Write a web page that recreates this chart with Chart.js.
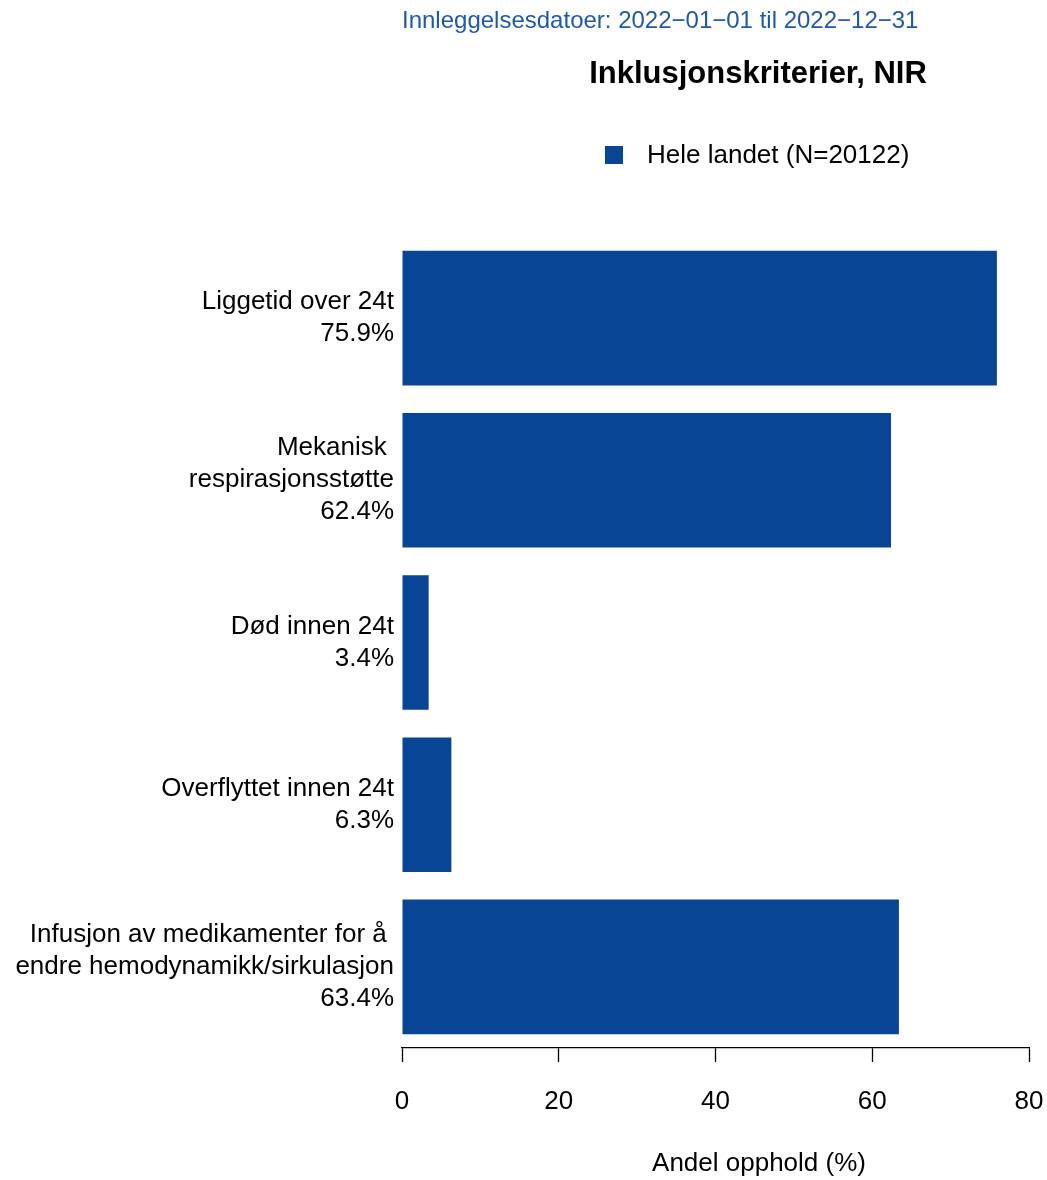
<!DOCTYPE html>
<html lang="no">
<head>
    <meta charset="UTF-8">
    <title>Inklusjonskriterier, NIR</title>
    <script src="https://cdn.jsdelivr.net/npm/chart.js"></script>
    <style>
        * { margin: 0; padding: 0; box-sizing: border-box; }
        body { background: white; }
        .wrap { width: 1047px; height: 1180px; position: relative; }
    </style>
</head>
<body>
    <div class="wrap">
        <canvas id="chart" width="1047" height="1180"></canvas>
    </div>

    <script>
        // data
        const categories = [
            ['Liggetid over 24t'],
            ['Mekanisk ', 'respirasjonsstøtte'],
            ['Død innen 24t'],
            ['Overflyttet innen 24t'],
            ['Infusjon av medikamenter for å ', 'endre hemodynamikk/sirkulasjon']
        ];
        const values = [75.9, 62.4, 3.4, 6.3, 63.4];
        const xTicks = [0, 20, 40, 60, 80];

        const seriesLabel = 'Hele landet (N=20122)';
        const subtitleText = 'Innleggelsesdatoer: 2022\u221201\u221201 til 2022\u221212\u221231';
        const titleText = 'Inklusjonskriterier, NIR';
        const xTitle = 'Andel opphold (%)';

        const FONT = '"Liberation Sans", Arial, Helvetica, sans-serif';
        const BLUE = '#084594';

        // each y label = category lines + percentage
        const labels = categories.map((lines, i) => [...lines, values[i].toFixed(1) + '%']);

        // header texts, legend and x-axis title
        const headerPlugin = {
            id: 'header',
            afterDraw(chart) {
                const ctx = chart.ctx;
                ctx.save();
                ctx.textBaseline = 'middle';

                ctx.fillStyle = '#1f5aa6';
                ctx.font = '24px ' + FONT;
                ctx.textAlign = 'left';
                ctx.fillText(subtitleText, 402, 21);

                ctx.fillStyle = '#000';
                ctx.font = 'bold 31px ' + FONT;
                ctx.textAlign = 'center';
                ctx.fillText(titleText, 758, 74);

                const ds = chart.data.datasets[0];
                ctx.fillStyle = ds.backgroundColor;
                ctx.fillRect(605, 146, 18, 18);
                ctx.fillStyle = '#000';
                ctx.font = '26px ' + FONT;
                ctx.textAlign = 'left';
                ctx.fillText(ds.label, 647, 156);

                ctx.textAlign = 'center';
                ctx.fillText(xTitle, 759, 1164);
                ctx.restore();
            }
        };

        new Chart(document.getElementById('chart'), {
            type: 'bar',
            data: {
                labels: labels,
                datasets: [{
                    label: seriesLabel,
                    data: values,
                    backgroundColor: BLUE,
                    borderWidth: 0,
                    barPercentage: 0.83,
                    categoryPercentage: 1.0
                }]
            },
            options: {
                indexAxis: 'y',
                responsive: false,
                animation: false,
                layout: {
                    padding: { top: 237, right: 18, bottom: 0, left: 0 }
                },
                plugins: {
                    legend: { display: false },
                    tooltip: { enabled: false }
                },
                scales: {
                    x: {
                        min: xTicks[0],
                        max: xTicks[xTicks.length - 1],
                        afterBuildTicks(scale) {
                            scale.ticks = xTicks.map(v => ({ value: v }));
                        },
                        afterFit(scale) {
                            scale.height = 132;
                            scale.paddingLeft = 0;
                            scale.paddingRight = 0;
                        },
                        grid: {
                            drawOnChartArea: false,
                            drawTicks: true,
                            tickLength: 14,
                            tickColor: '#000',
                            tickWidth: 1.3
                        },
                        border: { display: true, color: '#000', width: 1.3 },
                        ticks: {
                            color: '#000',
                            padding: 24,
                            maxRotation: 0,
                            font: { family: FONT, size: 26 }
                        }
                    },
                    y: {
                        afterFit(scale) {
                            scale.width = 402;
                        },
                        grid: { display: false },
                        border: { display: false },
                        ticks: {
                            color: '#000',
                            padding: 0,
                            font: { family: FONT, size: 26, lineHeight: 32 / 26 }
                        }
                    }
                }
            },
            plugins: [headerPlugin]
        });
    </script>
</body>
</html>
